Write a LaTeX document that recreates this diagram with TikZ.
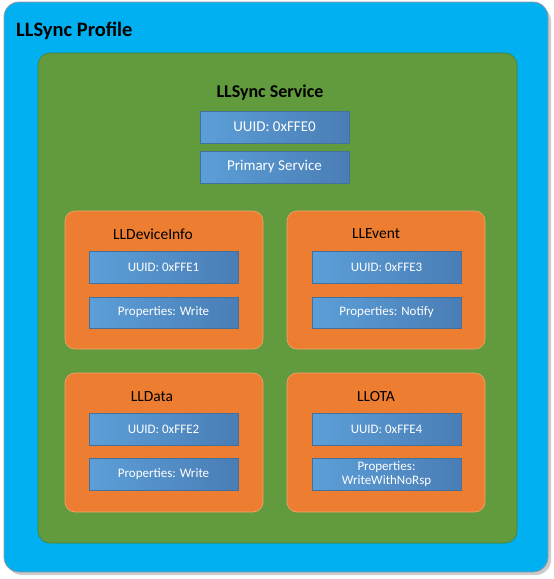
\documentclass[tikz,border=0pt]{standalone}
\usepackage{fontspec}
\setmainfont{Carlito}
\definecolor{profblue}{HTML}{00B0F0}
\definecolor{servgreen}{HTML}{629B3D}
\definecolor{servedge}{HTML}{4E7E30}
\definecolor{charorange}{HTML}{ED7D31}
\definecolor{charedge}{HTML}{F2A570}
\definecolor{boxlight}{HTML}{5C9FD8}
\definecolor{boxdark}{HTML}{4A7DB5}
\definecolor{boxedge}{HTML}{41719C}
\begin{document}
\begin{tikzpicture}[x=1pt,y=-1pt,
  profbox/.style={draw=gray!80, line width=0.8pt, fill=profblue, rounded corners=15pt, inner sep=0pt},
  servbox/.style={draw=servedge, line width=0.6pt, fill=servgreen, rounded corners=12pt, inner sep=0pt},
  charbox/.style={draw=charedge, line width=0.6pt, fill=charorange, rounded corners=10pt, inner sep=0pt, minimum width=198pt, minimum height=138pt},
  attrbox/.style={draw=boxedge, line width=0.7pt, shading=axis, shading angle=120, left color=boxlight, right color=boxdark, inner sep=0pt, minimum width=149pt, minimum height=32pt, text=white, align=center},
  svcattr/.style={attrbox, font=\fontsize{15}{17}\selectfont},
  chattr/.style={attrbox, font=\fontsize{13}{14.5}\selectfont},
  chtitle/.style={font=\fontsize{15.5}{18}\selectfont, text=black, inner sep=0pt}
]
\useasboundingbox (0,0) rectangle (554,579);
\fill[gray!40, rounded corners=15pt] (7,6) rectangle (551,575);
\node[profbox, minimum width=544pt, minimum height=570pt] (profile) at (276,287) {};
\node[anchor=west, inner sep=0pt, font=\bfseries\fontsize{20.5}{24}\selectfont] (proftitle) at (16,31) {LLSync Profile};
\node[servbox, minimum width=479pt, minimum height=490pt] (service) at (277.5,298) {};
\node[inner sep=0pt, font=\bfseries\fontsize{18}{21}\selectfont] (servtitle) at (270,93) {LLSync Service};
\node[svcattr] (svcuuid) at (274.5,127) {UUID: 0xFFE0};
\node[svcattr] (svcprim) at (274.5,167) {Primary Service};

\node[charbox] (devinfo) at (164,280) {};
\node[charbox] (event) at (386,280) {};
\node[charbox, minimum height=139pt] (data) at (164,442.5) {};
\node[charbox, minimum height=139pt] (ota) at (386,442.5) {};

\node[chtitle] (devinfot) at (153,234) {LLDeviceInfo};
\node[chtitle] (eventt) at (376,234) {LLEvent};
\node[chtitle] (datat) at (152,397) {LLData};
\node[chtitle] (otat) at (376,397) {LLOTA};

\node[chattr] (devuuid) at (163.5,267) {UUID: 0xFFE1};
\node[chattr, minimum height=31pt] (devprop) at (163.5,312.5) {Properties: Write};
\node[chattr] (evuuid) at (386.5,267) {UUID: 0xFFE3};
\node[chattr, minimum height=31pt] (evprop) at (386.5,312.5) {Properties: Notify};
\node[chattr] (datauuid) at (163.5,429) {UUID: 0xFFE2};
\node[chattr] (dataprop) at (163.5,474) {Properties: Write};
\node[chattr] (otauuid) at (386.5,429) {UUID: 0xFFE4};
\node[chattr] (otaprop) at (386.5,474) {Properties:\\WriteWithNoRsp};
\end{tikzpicture}
\end{document}
